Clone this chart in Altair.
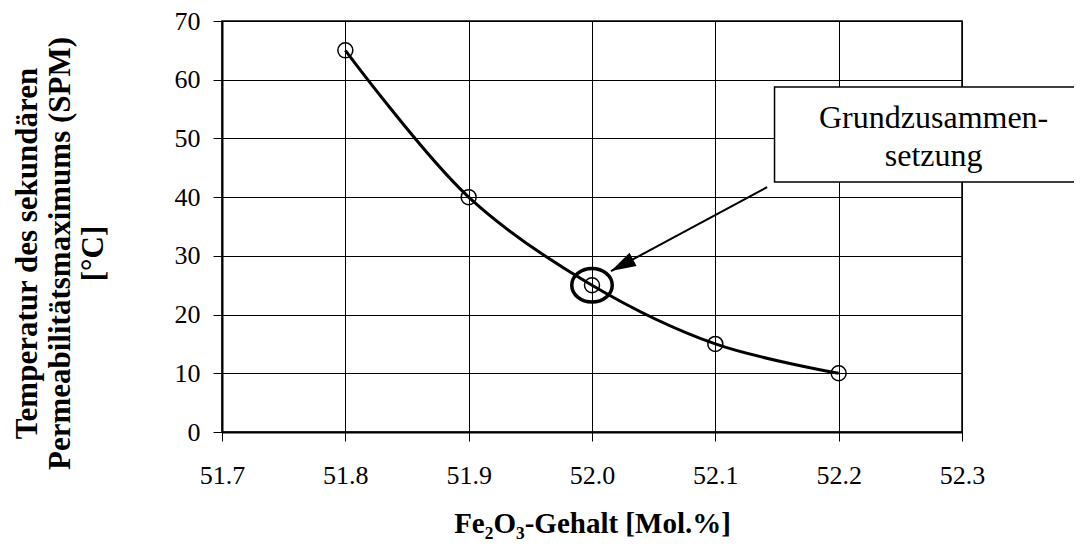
import altair as alt
import pandas as pd

# ---- data ----
fe2o3 = [51.8, 51.9, 52.0, 52.1, 52.2]
temp_spm = [65, 40, 25, 15, 10]
x_ticks = [51.7, 51.8, 51.9, 52.0, 52.1, 52.2, 52.3]
y_ticks = [0, 10, 20, 30, 40, 50, 60, 70]

x_title = "Fe₂O₃-Gehalt [Mol.%]"
y_title = ["Temperatur des sekundären", "Permeabilitätsmaximums (SPM)", "[°C]"]

# annotation (in data units)
highlight = {"x": [52.0], "y": [25]}
arrow = {"x": [52.142], "y": [41.7], "x2": [52.0154], "y2": [27.4]}
box = {"x": [52.148], "y": [58.76], "x2": [52.42], "y2": [42.58]}
note_lines = ["Grundzusammen-", "setzung"]
note_x = [52.277, 52.277]
note_y = [51.8, 45.3]

FONT = "'Times New Roman', 'Liberation Serif', Times, serif"

df = pd.DataFrame({"x": fe2o3, "y": temp_spm})
df_hl = pd.DataFrame(highlight)
df_arrow = pd.DataFrame(arrow)
df_head = pd.DataFrame({"x": arrow["x2"], "y": arrow["y2"]})
df_box = pd.DataFrame(box)
df_note = pd.DataFrame({"x": note_x, "y": note_y, "t": note_lines})

xscale = alt.Scale(domain=[51.7, 52.3], nice=False, zero=False)
yscale = alt.Scale(domain=[0, 70], nice=False, zero=True)

xaxis = alt.Axis(values=x_ticks, format=".1f", title=x_title, labelFlush=False,
                 titleY=100, titleBaseline="alphabetic")
yaxis = alt.Axis(values=y_ticks, format="d", title=y_title, labelFlush=False,
                 titleX=-186, titleY=232, titleAngle=-90, titleFontSize=31,
                 titleBaseline="alphabetic", titleAlign="center",
                 titleLineHeight=33)


def X(field="x"):
    return alt.X(f"{field}:Q", scale=xscale, axis=xaxis)


def Y(field="y"):
    return alt.Y(f"{field}:Q", scale=yscale, axis=yaxis)


line = alt.Chart(df).mark_line(interpolate="catmull-rom", color="black",
                               strokeWidth=3).encode(x=X(), y=Y())

points = alt.Chart(df).mark_point(shape="circle", size=225, filled=False,
                                  color="black", strokeWidth=1.5,
                                  opacity=1).encode(x=X(), y=Y())

ellipse = alt.Chart(df_hl).mark_point(
    shape="M-1,0 A1,0.83 0 1,0 1,0 A1,0.83 0 1,0 -1,0 Z",
    size=1640, filled=False, color="black", strokeWidth=3.5, opacity=1
).encode(x=X(), y=Y())

shaft = alt.Chart(df_arrow).mark_rule(color="black", strokeWidth=2).encode(
    x=X(), y=Y(), x2="x2:Q", y2="y2:Q")

head = alt.Chart(df_head).mark_point(
    shape="M0,0 L-0.3,1 L0.3,1 Z", size=2500, filled=True,
    color="black", angle=242, opacity=1
).encode(x=X(), y=Y())

rect = alt.Chart(df_box).mark_rect(fill="white", stroke="black",
                                   strokeWidth=1.5).encode(
    x=X(), y=Y(), x2="x2:Q", y2="y2:Q")

note = alt.Chart(df_note).mark_text(font=FONT, fontSize=32, color="black",
                                    align="center",
                                    baseline="alphabetic").encode(
    x=X(), y=Y(), text="t:N")

chart = alt.layer(line, points, ellipse, shaft, head, rect, note).properties(
    width=740, height=411,
    autosize=alt.AutoSizeParams(type="none"),
    padding={"left": 214, "top": 13, "right": 112, "bottom": 107},
).configure_view(
    stroke="black", strokeWidth=1.5
).configure_axis(
    labelFont=FONT, labelFontSize=26, labelColor="black",
    titleFont=FONT, titleFontSize=29, titleFontWeight="bold", titleColor="black",
    grid=True, gridColor="black", gridWidth=1, gridOpacity=1,
    domainColor="black", domainWidth=2,
    tickColor="black", tickWidth=1, tickSize=9,
).configure_axisX(
    labelPadding=21
).configure_axisY(
    labelPadding=13
)

chart.save("out.html", embed_options={"renderer": "svg", "actions": False})
